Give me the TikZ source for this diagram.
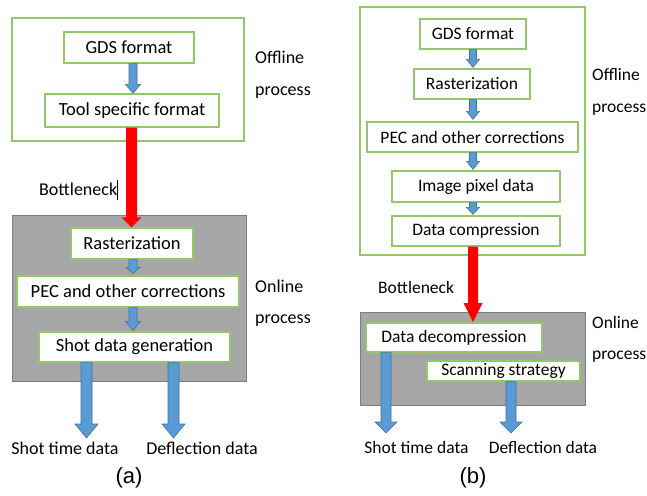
\documentclass[tikz,border=0pt]{standalone}
\usepackage{fontspec}
\setmainfont{Carlito}
\newfontfamily\arialfont{Liberation Sans}
\usetikzlibrary{arrows.meta,calc}
\definecolor{boxgreen}{RGB}{146,200,105}
\definecolor{arrblue}{RGB}{91,155,213}
\definecolor{arredge}{RGB}{65,113,156}
\definecolor{grayfill}{RGB}{166,166,166}
\definecolor{grayline}{RGB}{125,125,125}
\tikzset{
  frame/.style={draw=boxgreen,line width=1.3pt,fill=white,inner sep=0pt},
  online/.style={draw=grayline,line width=0.8pt,fill=grayfill,inner sep=0pt},
  stepbox/.style={draw=boxgreen,line width=1.3pt,fill=white,inner sep=0pt,font=\fontsize{18.5}{20}\selectfont},
  stepboxb/.style={stepbox,font=\fontsize{17.5}{19}\selectfont},
  lbl/.style={inner sep=0pt,font=\fontsize{18}{20}\selectfont},
  lblb/.style={inner sep=0pt,font=\fontsize{17.5}{19}\selectfont},
  captext/.style={inner sep=0pt,font=\arialfont\fontsize{22}{24}\selectfont},
  bluearrow/.style={draw=arredge,fill=arrblue,line width=0.6pt,line join=miter},
  redarrow/.style={fill=red,draw=none},
}
% #1 style, #2 start coordinate, #3 tip coordinate, #4 half shaft, #5 half head, #6 head length
\newcommand\blockarr[6]{%
  \path[#1] ($(#2)+(-#4,0)$) -- ($(#3)+(-#4,#6)$) -- ($(#3)+(-#5,#6)$) -- (#3)
    -- ($(#3)+(#5,#6)$) -- ($(#3)+(#4,#6)$) -- ($(#2)+(#4,0)$) -- cycle;}
\begin{document}
\begin{tikzpicture}[x=1pt,y=1pt]
\useasboundingbox (0,0) rectangle (647,-495);
% ---------------- (a) ----------------
\node[frame,minimum width=232pt,minimum height=123pt] (offA) at (128,-79.5) {};
\node[online,minimum width=234pt,minimum height=166pt] (onA) at (129,-298) {};
\node[stepbox,minimum width=130pt,minimum height=31pt] (gdsA) at (129,-47.5) {GDS format};
\node[stepbox,minimum width=174pt,minimum height=33pt] (toolA) at (132,-110.5) {Tool specific format};
\node[stepbox,minimum width=122pt,minimum height=31pt] (rasA) at (132,-243.5) {Rasterization};
\node[stepbox,minimum width=222pt,minimum height=31pt] (pecA) at (128,-291.5) {PEC and other corrections};
\node[stepbox,minimum width=191pt,minimum height=30pt] (shotA) at (134.5,-347) {Shot data generation};
\node[lbl,anchor=west] (offlA) at (255,-57) {Offline};
\node[lbl,anchor=west] (offpA) at (255,-93) {process};
\node[lbl,anchor=west] (onlA) at (255,-286) {Online};
\node[lbl,anchor=west] (onpA) at (255,-321) {process};
\node[lbl,anchor=west] (botA) at (39,-190) {Bottleneck\rule[-0.25em]{0.6pt}{1.15em}};
\node[lbl] (stA) at (65,-448) {Shot time data};
\node[lbl] (dfA) at (202,-448) {Deflection data};
\node[captext] (capA) at (129,-478) {(a)};
% connector end points
\coordinate (a1s) at (gdsA.south -| 133,0);   \coordinate (a1t) at (toolA.north -| 133,0);
\coordinate (ras) at (toolA.south -| 131.5,0); \coordinate (rat) at (rasA.north -| 131.5,0);
\coordinate (a2s) at (rasA.south -| 133,0);   \coordinate (a2t) at ([yshift=2pt]pecA.north -| 133,0);
\coordinate (a3s) at (pecA.south -| 133,0);   \coordinate (a3t) at ([yshift=1pt]shotA.north -| 133,0);
\coordinate (stAt) at (86.5,-438);  \coordinate (stAs) at (shotA.south -| stAt);
\coordinate (dfAt) at (173.5,-438); \coordinate (dfAs) at (shotA.south -| dfAt);
\blockarr{bluearrow}{a1s}{a1t}{4}{7.5}{9}
\blockarr{redarrow}{ras}{rat}{5.5}{10}{10}
\blockarr{bluearrow}{a2s}{a2t}{4}{7}{6}
\blockarr{bluearrow}{a3s}{a3t}{4}{7.5}{9}
\blockarr{bluearrow}{stAs}{stAt}{5.5}{11.5}{14}
\blockarr{bluearrow}{dfAs}{dfAt}{5.5}{11.5}{14}
% ---------------- (b) ----------------
\node[frame,minimum width=225pt,minimum height=248pt] (offB) at (472.5,-131) {};
\node[online,minimum width=225pt,minimum height=93pt] (onB) at (472.5,-358.5) {};
\node[stepboxb,minimum width=106pt,minimum height=30pt] (gdsB) at (473,-34) {GDS format};
\node[stepboxb,minimum width=116pt,minimum height=30pt] (rasB) at (472,-84) {Rasterization};
\node[stepboxb,minimum width=211pt,minimum height=30pt] (pecB) at (472.5,-137) {PEC and other corrections};
\node[stepboxb,minimum width=168pt,minimum height=31pt] (imgB) at (476,-186.5) {Image pixel data};
\node[stepboxb,minimum width=168pt,minimum height=30pt] (dcB) at (476,-231) {Data compression};
\node[stepboxb,minimum width=176pt,minimum height=29pt] (ddB) at (454,-337.5) {Data decompression};
\node[stepboxb,minimum width=153pt,minimum height=20pt] (ssB) at (503.5,-371) {Scanning strategy};
\node[lblb,anchor=west] (offlB) at (592,-75) {Offline};
\node[lblb,anchor=west] (offpB) at (592,-110) {process};
\node[lblb,anchor=west] (onlB) at (592,-322) {Online};
\node[lblb,anchor=west] (onpB) at (592,-357) {process};
\node[lblb,anchor=west] (botB) at (378,-287) {Bottleneck};
\node[lblb] (stB) at (416.5,-447) {Shot time data};
\node[lblb] (dfB) at (543,-447) {Deflection data};
\node[captext] (capB) at (473,-478) {(b)};
\coordinate (b1s) at (gdsB.south -| 473,0); \coordinate (b1t) at ([yshift=1pt]rasB.north -| 473,0);
\coordinate (b2s) at (rasB.south -| 473,0); \coordinate (b2t) at ([yshift=2pt]pecB.north -| 473,0);
\coordinate (b3s) at (pecB.south -| 473,0); \coordinate (b3t) at ([yshift=1pt]imgB.north -| 473,0);
\coordinate (b4s) at (imgB.south -| 473,0); \coordinate (b4t) at ([yshift=1pt]dcB.north -| 473,0);
\coordinate (redBt) at (473,-322); \coordinate (redBs) at (dcB.south -| redBt);
\coordinate (stBt) at (386,-433); \coordinate (stBs) at (ddB.south -| stBt);
\coordinate (dfBt) at (511,-433); \coordinate (dfBs) at (ssB.south -| dfBt);
\blockarr{bluearrow}{b1s}{b1t}{3.5}{6.5}{8}
\blockarr{bluearrow}{b2s}{b2t}{3.5}{6.5}{8}
\blockarr{bluearrow}{b3s}{b3t}{3.5}{6.5}{8}
\blockarr{bluearrow}{b4s}{b4t}{3.5}{6.5}{7}
\blockarr{redarrow}{redBs}{redBt}{5}{9.5}{19}
\blockarr{bluearrow}{stBs}{stBt}{5}{11}{11}
\blockarr{bluearrow}{dfBs}{dfBt}{5}{11}{11}
\end{tikzpicture}
\end{document}
